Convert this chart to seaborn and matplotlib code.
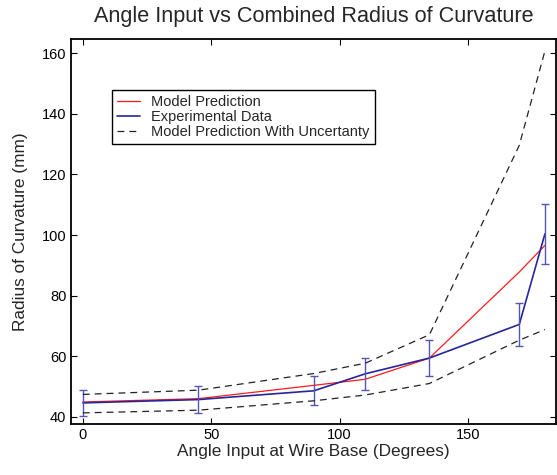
import numpy as np
import pandas as pd
import matplotlib
matplotlib.use("Agg")
import matplotlib.pyplot as plt
import seaborn as sns

# values
angle = [0, 45, 90, 110, 135, 170, 180]
model_pred = [44.9, 46.0, 50.4, 52.4, 59.4, 87.8, 96.6]
exp_data = [44.6, 45.7, 48.6, 54.2, 59.4, 70.5, 100.4]
exp_err = [4.4, 4.5, 4.8, 5.3, 5.9, 7.0, 10.0]
upper_bound = [47.4, 48.8, 54.3, 57.7, 67.1, 129.6, 160.8]
lower_bound = [41.3, 42.2, 45.3, 47.2, 51.0, 65.3, 68.8]

sns.set_style("ticks")
plt.rcParams['font.family'] = ['Liberation Sans', 'DejaVu Sans']

df = pd.DataFrame({'angle': angle, 'model': model_pred, 'exp': exp_data,
                   'err': exp_err, 'upper': upper_bound, 'lower': lower_bound})

fig = plt.figure(figsize=(5.57, 4.75), dpi=100)
ax = fig.add_axes([0.1266, 0.1084, 0.8725, 0.8095])

red = '#ff1a1a'
blue = '#26269a'

sns.lineplot(data=df, x='angle', y='model', ax=ax, color=red, lw=0.9,
             label='Model Prediction', sort=False)
sns.lineplot(data=df, x='angle', y='exp', ax=ax, color=blue, lw=1.2,
             label='Experimental Data', sort=False)
ax.errorbar(df['angle'], df['exp'], yerr=df['err'], fmt='none',
            ecolor='#5555b5', elinewidth=1.0, capsize=3, capthick=1.0)
sns.lineplot(data=df, x='angle', y='upper', ax=ax, color='#222222', lw=0.9,
             label='Model Prediction With Uncertanty', sort=False)
sns.lineplot(data=df, x='angle', y='lower', ax=ax, color='#222222', lw=0.9,
             sort=False)
for ln in ax.get_lines()[-2:]:
    ln.set_linestyle((0, (5.5, 4)))

ax.set_xlim(-4.8, 184.5)
ax.set_ylim(37.8, 164.7)
ax.set_xticks([0, 50, 100, 150])
ax.set_yticks([40, 60, 80, 100, 120, 140, 160])
ax.tick_params(direction='in', top=True, right=True, length=4, width=0.8,
               labelsize=10.5, colors='black', pad=3)
for s in ax.spines.values():
    s.set_visible(True)
    s.set_linewidth(1.3)
    s.set_color('black')

ax.set_title('Angle Input vs Combined Radius of Curvature', fontsize=15.6, pad=12)
ax.set_xlabel('Angle Input at Wire Base (Degrees)', fontsize=12.4, labelpad=2)
ax.set_ylabel('Radius of Curvature (mm)', fontsize=12.4, labelpad=10)

handles, labels = ax.get_legend_handles_labels()
leg = ax.legend(handles[:3], labels[:3], loc='upper left',
                bbox_to_anchor=(0.0848, 0.867), fontsize=10.5, frameon=True,
                fancybox=False, edgecolor='black', framealpha=1,
                handlelength=1.62, handletextpad=0.74, labelspacing=0.05,
                borderpad=0.35, borderaxespad=0)
leg.get_frame().set_linewidth(1.0)

fig.savefig('out.png', dpi=100)
